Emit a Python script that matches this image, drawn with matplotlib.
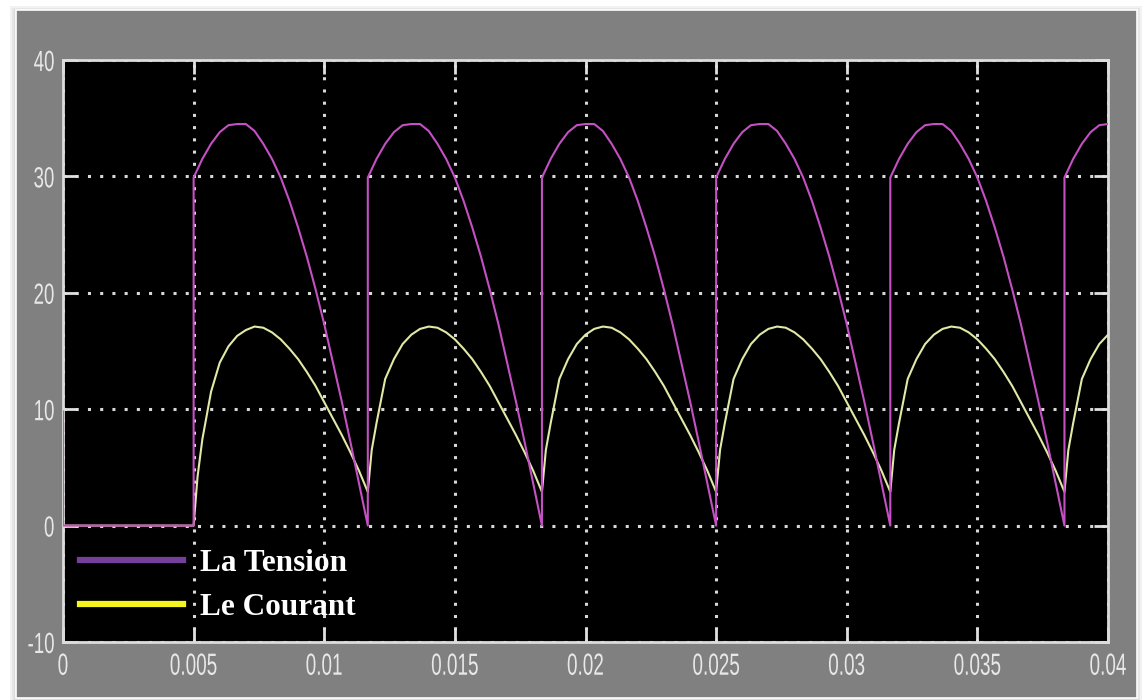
import matplotlib
matplotlib.use("Agg")
import matplotlib.pyplot as plt
from matplotlib.lines import Line2D
from matplotlib.patches import Rectangle
from matplotlib.patheffects import AbstractPathEffect
from matplotlib.transforms import Affine2D

plt.rcParams['axes.unicode_minus'] = False

# ---------------- data ----------------
# La Tension : time in ms, value
volt_t_ms = [0.0, 0.0, 5.0,
             5.0, 5.333, 5.667, 6.0, 6.333, 6.667, 7.0, 7.333, 7.667, 8.0, 8.333, 8.667, 9.0, 9.333, 9.667, 10.0, 10.333, 10.667, 11.0, 11.333, 11.667,
             11.667, 12.0, 12.333, 12.667, 13.0, 13.333, 13.667, 14.0, 14.333, 14.667, 15.0, 15.333, 15.667, 16.0, 16.333, 16.667, 17.0, 17.333, 17.667, 18.0, 18.333,
             18.333, 18.667, 19.0, 19.333, 19.667, 20.0, 20.333, 20.667, 21.0, 21.333, 21.667, 22.0, 22.333, 22.667, 23.0, 23.333, 23.667, 24.0, 24.333, 24.667, 25.0,
             25.0, 25.333, 25.667, 26.0, 26.333, 26.667, 27.0, 27.333, 27.667, 28.0, 28.333, 28.667, 29.0, 29.333, 29.667, 30.0, 30.333, 30.667, 31.0, 31.333, 31.667,
             31.667, 32.0, 32.333, 32.667, 33.0, 33.333, 33.667, 34.0, 34.333, 34.667, 35.0, 35.333, 35.667, 36.0, 36.333, 36.667, 37.0, 37.333, 37.667, 38.0, 38.333,
             38.333, 38.667, 39.0, 39.333, 39.667, 40.0]
volt_v = [9.8, 0.0, 0.0,
          29.9, 31.5, 32.8, 33.8, 34.4, 34.5, 34.5, 33.9, 32.8, 31.5, 29.9, 27.9, 25.6, 23.1, 20.3, 17.3, 14.0, 10.7, 7.2, 3.6, 0.0,
          29.9, 31.5, 32.8, 33.8, 34.4, 34.5, 34.5, 33.9, 32.8, 31.5, 29.9, 27.9, 25.6, 23.1, 20.3, 17.3, 14.0, 10.7, 7.2, 3.6, 0.0,
          29.9, 31.5, 32.8, 33.8, 34.4, 34.5, 34.5, 33.9, 32.8, 31.5, 29.9, 27.9, 25.6, 23.1, 20.3, 17.3, 14.0, 10.7, 7.2, 3.6, 0.0,
          29.9, 31.5, 32.8, 33.8, 34.4, 34.5, 34.5, 33.9, 32.8, 31.5, 29.9, 27.9, 25.6, 23.1, 20.3, 17.3, 14.0, 10.7, 7.2, 3.6, 0.0,
          29.9, 31.5, 32.8, 33.8, 34.4, 34.5, 34.5, 33.9, 32.8, 31.5, 29.9, 27.9, 25.6, 23.1, 20.3, 17.3, 14.0, 10.7, 7.2, 3.6, 0.0,
          29.9, 31.5, 32.8, 33.8, 34.4, 34.5]

# Le Courant : time in ms, value
curr_t_ms = [0.0,
             5.0, 5.15, 5.333, 5.667, 6.0, 6.333, 6.667, 7.0, 7.333, 7.667, 8.0, 8.333, 8.667, 9.0, 9.333, 9.667, 10.0, 10.333, 10.667, 11.0, 11.333,
             11.667, 11.817, 12.0, 12.333, 12.667, 13.0, 13.333, 13.667, 14.0, 14.333, 14.667, 15.0, 15.333, 15.667, 16.0, 16.333, 16.667, 17.0, 17.333, 17.667, 18.0,
             18.333, 18.483, 18.667, 19.0, 19.333, 19.667, 20.0, 20.333, 20.667, 21.0, 21.333, 21.667, 22.0, 22.333, 22.667, 23.0, 23.333, 23.667, 24.0, 24.333, 24.667,
             25.0, 25.15, 25.333, 25.667, 26.0, 26.333, 26.667, 27.0, 27.333, 27.667, 28.0, 28.333, 28.667, 29.0, 29.333, 29.667, 30.0, 30.333, 30.667, 31.0, 31.333,
             31.667, 31.817, 32.0, 32.333, 32.667, 33.0, 33.333, 33.667, 34.0, 34.333, 34.667, 35.0, 35.333, 35.667, 36.0, 36.333, 36.667, 37.0, 37.333, 37.667, 38.0,
             38.333, 38.483, 38.667, 39.0, 39.333, 39.667, 40.0]
curr_v = [0.0,
          0.0, 4.2, 7.4, 11.5, 14.0, 15.4, 16.3, 16.8, 17.1, 17.0, 16.6, 16.0, 15.2, 14.3, 13.2, 12.0, 10.6, 9.2, 7.8, 6.3, 4.7,
          2.9, 6.5, 8.8, 12.6, 14.3, 15.6, 16.4, 16.9, 17.1, 17.0, 16.6, 16.0, 15.2, 14.3, 13.2, 12.0, 10.6, 9.2, 7.8, 6.3, 4.7,
          2.9, 6.5, 8.8, 12.6, 14.3, 15.6, 16.4, 16.9, 17.1, 17.0, 16.6, 16.0, 15.2, 14.3, 13.2, 12.0, 10.6, 9.2, 7.8, 6.3, 4.7,
          2.9, 6.5, 8.8, 12.6, 14.3, 15.6, 16.4, 16.9, 17.1, 17.0, 16.6, 16.0, 15.2, 14.3, 13.2, 12.0, 10.6, 9.2, 7.8, 6.3, 4.7,
          2.9, 6.5, 8.8, 12.6, 14.3, 15.6, 16.4, 16.9, 17.1, 17.0, 16.6, 16.0, 15.2, 14.3, 13.2, 12.0, 10.6, 9.2, 7.8, 6.3, 4.7,
          2.9, 6.5, 8.8, 12.6, 14.3, 15.6, 16.4]

x_ticks = [0, 0.005, 0.01, 0.015, 0.02, 0.025, 0.03, 0.035, 0.04]
x_tick_labels = ["0", "0.005", "0.01", "0.015", "0.02", "0.025", "0.03", "0.035", "0.04"]
y_ticks = [-10, 0, 10, 20, 30, 40]
y_tick_labels = ["-10", "0", "10", "20", "30", "40"]
series_names = ["La Tension", "Le Courant"]


class Narrow(AbstractPathEffect):
    """Horizontally condense glyphs (MATLAB-like narrow tick font)."""
    def __init__(self, sx, anchor):
        super().__init__()
        self.sx = sx
        self.anchor = anchor

    def draw_path(self, renderer, gc, tpath, affine, rgbFace=None):
        ext = tpath.get_extents(affine)
        if self.anchor == "center":
            cx = 0.5 * (ext.x0 + ext.x1)
        elif self.anchor == "right":
            cx = ext.x1
        else:
            cx = ext.x0
        tr = affine + Affine2D().translate(-cx, 0).scale(self.sx, 1).translate(cx, 0)
        renderer.draw_path(gc, tpath, tr, rgbFace)


# ---------------- figure ----------------
W, H = 1142, 700
fig = plt.figure(figsize=(W / 100, H / 100), dpi=100, facecolor="white")

for i, c in enumerate(["#f2f2f2", "#e6e6e6", "#dadada"]):
    fig.patches.append(Rectangle(((10 + 2 * i) / W, 1 - (704 - 2 * i) / H),
                                 (1132 - 4 * i) / W, (698 - 4 * i) / H,
                                 transform=fig.transFigure, facecolor=c,
                                 edgecolor="none", zorder=-3))
fig.patches.append(Rectangle((16 / W, 1 - 698 / H), (1137 - 16) / W, (698 - 10) / H,
                             transform=fig.transFigure, facecolor="#808080",
                             edgecolor="white", linewidth=1.2, zorder=-2))

ax = fig.add_axes([63 / W, 1 - 642 / H, (1108 - 63) / W, (642 - 60) / H])
ax.set_facecolor("black")

volt_t = [t / 1000.0 for t in volt_t_ms]
curr_t = [t / 1000.0 for t in curr_t_ms]
ax.plot(curr_t, curr_v, color="#e2e8a6", lw=1.5, zorder=3)
ax.plot(volt_t, volt_v, color="#c450c4", lw=1.5, zorder=4)

ax.set_xlim(0, 0.04)
ax.set_ylim(-10, 40)
ax.set_xticks(x_ticks)
ax.set_xticklabels(x_tick_labels)
ax.set_yticks(y_ticks)
ax.set_yticklabels(y_tick_labels)

ax.tick_params(direction="in", length=10, width=2, color="#e0e0e0",
               top=True, right=True)
ax.tick_params(axis="x", pad=7)
ax.tick_params(axis="y", pad=6)

for lab in ax.get_xticklabels():
    lab.set_fontfamily(["Liberation Sans", "DejaVu Sans"])
    lab.set_fontsize(22)
    lab.set_color("#e8e8e8")
    lab.set_path_effects([Narrow(0.62, "center")])
for lab in ax.get_yticklabels():
    lab.set_fontfamily(["Liberation Sans", "DejaVu Sans"])
    lab.set_fontsize(21)
    lab.set_color("#e8e8e8")
    lab.set_path_effects([Narrow(0.64, "right")])

for s in ax.spines.values():
    s.set_color("#dcdcdc")
    s.set_linewidth(2)

ax.grid(True, color="#d8d8d8", linestyle=(0, (1, 3)), linewidth=2.2)
ax.set_axisbelow(True)

handles = [Line2D([], [], color="#74409c", lw=4.5),
           Line2D([], [], color="#f4f41e", lw=4.5)]
leg = ax.legend(handles, series_names, loc="upper left", frameon=False,
                handlelength=3.3, handletextpad=0.55, labelspacing=0.47,
                borderaxespad=0.0, borderpad=0.0,
                bbox_to_anchor=(17 / 1045, (642 - 549) / 582),
                prop=dict(family="Liberation Serif", weight="bold", size=22.5))
for t in leg.get_texts():
    t.set_color("white")

fig.savefig("out.png", dpi=100, facecolor=fig.get_facecolor())
